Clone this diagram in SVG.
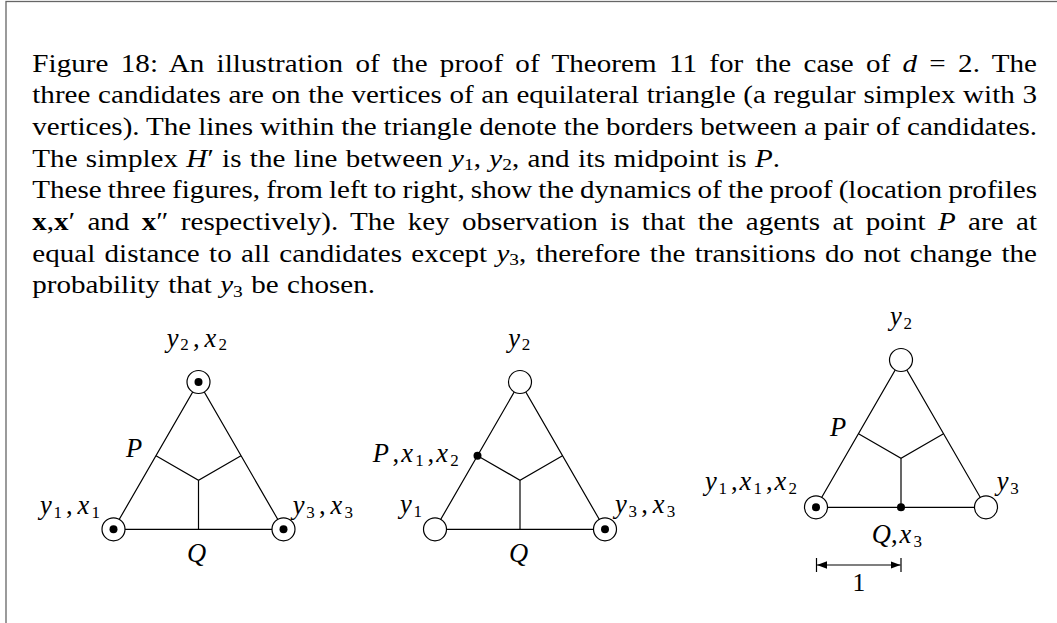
<svg xmlns="http://www.w3.org/2000/svg" width="1057" height="623" viewBox="0 0 1057 623">
<style>
.cap{font-family:"Liberation Serif",serif;font-size:25.5px;fill:#000}
.m{font-family:"Liberation Serif",serif;font-size:26.5px;font-style:italic;fill:#000}
.i{font-style:italic}
.b{font-weight:bold}
.s{font-size:17px;font-style:normal}
.n{font-style:normal}
.ln{stroke:#000;stroke-width:1.2;fill:none}
.v{fill:#fff;stroke:#000;stroke-width:1.2}
.d{fill:#000}
</style>
<defs>
<marker id="ah" viewBox="0 0 10 10" refX="10" refY="5" markerWidth="10" markerHeight="10" markerUnits="userSpaceOnUse" orient="auto-start-reverse"><path d="M0,1.2 L10,5 L0,8.8 z" fill="#000"/></marker>
</defs>
<rect x="0" y="0" width="1057" height="623" fill="#fff"/>
<rect x="6" y="1.5" width="1100" height="700" fill="none" stroke="#666" stroke-width="1.3"/>

<g id="caption">
<text class="cap" transform="translate(32.3,71.7) scale(1.14,1)" textLength="881.3" lengthAdjust="spacing" word-spacing="4.3">Figure 18: An illustration of the proof of Theorem 11 for the case of <tspan class="i">d</tspan> = 2. The</text>
<text class="cap" transform="translate(32.3,103.3) scale(1.14,1)" textLength="881.3" lengthAdjust="spacing" word-spacing="0.3">three candidates are on the vertices of an equilateral triangle (a regular simplex with 3</text>
<text class="cap" transform="translate(32.3,135) scale(1.14,1)" textLength="881.3" lengthAdjust="spacing" word-spacing="-0.3">vertices). The lines within the triangle denote the borders between a pair of candidates.</text>
<text class="cap" transform="translate(32.3,166.6) scale(1.14,1)" textLength="655.9" lengthAdjust="spacing" word-spacing="0.9">The simplex <tspan class="i">H</tspan>′ is the line between <tspan class="i">y</tspan><tspan class="s" dy="3.5">1</tspan><tspan dy="-3.5">, </tspan><tspan class="i">y</tspan><tspan class="s" dy="3.5">2</tspan><tspan dy="-3.5">, and its midpoint is </tspan><tspan class="i">P</tspan>.</text>
<text class="cap" transform="translate(32.3,198.3) scale(1.14,1)" textLength="881.3" lengthAdjust="spacing" word-spacing="-1">These three figures, from left to right, show the dynamics of the proof (location profiles</text>
<text class="cap" transform="translate(32.3,230) scale(1.14,1)" textLength="881.3" lengthAdjust="spacing" word-spacing="4.5"><tspan class="b">x</tspan>,<tspan class="b">x</tspan>′ and <tspan class="b">x</tspan>″ respectively). The key observation is that the agents at point <tspan class="i">P</tspan> are at</text>
<text class="cap" transform="translate(32.3,261.6) scale(1.14,1)" textLength="881.3" lengthAdjust="spacing" word-spacing="1.8">equal distance to all candidates except <tspan class="i">y</tspan><tspan class="s" dy="3.5">3</tspan><tspan dy="-3.5">, therefore the transitions do not change the</tspan></text>
<text class="cap" transform="translate(32.3,293.3) scale(1.14,1)" textLength="300.6" lengthAdjust="spacing" word-spacing="1">probability that <tspan class="i">y</tspan><tspan class="s" dy="3.5">3</tspan><tspan dy="-3.5"> be chosen.</tspan></text>
</g>

<!-- Figure 1 -->
<g id="fig1">
<g id="fig1-connectors">
<polygon class="ln" points="113.5,529.3 198.5,382 283.5,529.3"/>
<polyline class="ln" points="156,455.7 198.5,480.2 241,455.7"/>
<line class="ln" x1="198.5" y1="480.2" x2="198.5" y2="529.3"/>
</g>
<g id="fig1-y1"><circle class="v" cx="113.5" cy="529.3" r="11.5"/><circle class="d" cx="113.5" cy="529.3" r="4"/>
<text class="m" y="514"><tspan x="40">y</tspan><tspan class="s" x="53.5" dy="3.5">1</tspan><tspan class="n" x="66" dy="-3.5">,</tspan><tspan x="77.5">x</tspan><tspan class="s" x="91.5" dy="3.5">1</tspan></text></g>
<g id="fig1-y2"><circle class="v" cx="198.5" cy="382" r="11.5"/><circle class="d" cx="198.5" cy="382" r="4"/>
<text class="m" y="346.7"><tspan x="166.7">y</tspan><tspan class="s" x="180.2" dy="3.5">2</tspan><tspan class="n" x="193" dy="-3.5">,</tspan><tspan x="204.5">x</tspan><tspan class="s" x="218.5" dy="3.5">2</tspan></text></g>
<g id="fig1-y3"><circle class="v" cx="283.5" cy="529.3" r="11.5"/><circle class="d" cx="283.5" cy="529.3" r="4"/>
<text class="m" y="514"><tspan x="292.7">y</tspan><tspan class="s" x="306.2" dy="3.5">3</tspan><tspan class="n" x="319" dy="-3.5">,</tspan><tspan x="330.5">x</tspan><tspan class="s" x="344.5" dy="3.5">3</tspan></text></g>
<g id="fig1-P"><text class="m" x="126" y="456.7">P</text></g>
<g id="fig1-Q"><text class="m" x="187" y="561.7">Q</text></g>
</g>

<!-- Figure 2 -->
<g id="fig2">
<g id="fig2-connectors">
<polygon class="ln" points="435,529.3 520,382 605,529.3"/>
<polyline class="ln" points="477.5,455.7 520,480.2 562.5,455.7"/>
<line class="ln" x1="520" y1="480.2" x2="520" y2="529.3"/>
</g>
<g id="fig2-y1"><circle class="v" cx="435" cy="529.3" r="11.5"/>
<text class="m" y="513.3"><tspan x="400">y</tspan><tspan class="s" x="413.5" dy="3.5">1</tspan></text></g>
<g id="fig2-y2"><circle class="v" cx="520" cy="382" r="11.5"/>
<text class="m" y="346.7"><tspan x="508.3">y</tspan><tspan class="s" x="521.8" dy="3.5">2</tspan></text></g>
<g id="fig2-y3"><circle class="v" cx="605" cy="529.3" r="11.5"/><circle class="d" cx="605" cy="529.3" r="4"/>
<text class="m" y="513.3"><tspan x="615">y</tspan><tspan class="s" x="628.5" dy="3.5">3</tspan><tspan class="n" x="641.3" dy="-3.5">,</tspan><tspan x="652.8">x</tspan><tspan class="s" x="666.8" dy="3.5">3</tspan></text></g>
<g id="fig2-P"><circle class="d" cx="477.5" cy="455.7" r="4"/>
<text class="m" y="462"><tspan x="372.7">P</tspan><tspan class="n" x="392.5">,</tspan><tspan x="401.2">x</tspan><tspan class="s" x="415.2" dy="3.5">1</tspan><tspan class="n" x="427.5" dy="-3.5">,</tspan><tspan x="436.2">x</tspan><tspan class="s" x="450.2" dy="3.5">2</tspan></text></g>
<g id="fig2-Q"><text class="m" x="509" y="561.7">Q</text></g>
</g>

<!-- Figure 3 -->
<g id="fig3">
<g id="fig3-connectors">
<polygon class="ln" points="816,507.3 901,360 986,507.3"/>
<polyline class="ln" points="858.5,433.7 901,458.2 943.5,433.7"/>
<line class="ln" x1="901" y1="458.2" x2="901" y2="507.3"/>
<line class="ln" x1="816.5" y1="558" x2="816.5" y2="572"/>
<line class="ln" x1="901" y1="558" x2="901" y2="572"/>
<line class="ln" x1="817" y1="565" x2="900.5" y2="565" marker-start="url(#ah)" marker-end="url(#ah)"/>
</g>
<g id="fig3-y1"><circle class="v" cx="816" cy="507.3" r="11.5"/><circle class="d" cx="816" cy="507.3" r="4"/>
<text class="m" y="490"><tspan x="705">y</tspan><tspan class="s" x="718.5" dy="3.5">1</tspan><tspan class="n" x="731" dy="-3.5">,</tspan><tspan x="739.5">x</tspan><tspan class="s" x="753.5" dy="3.5">1</tspan><tspan class="n" x="766" dy="-3.5">,</tspan><tspan x="774.5">x</tspan><tspan class="s" x="788.5" dy="3.5">2</tspan></text></g>
<g id="fig3-y2"><circle class="v" cx="901" cy="360" r="11.5"/>
<text class="m" y="325"><tspan x="890">y</tspan><tspan class="s" x="903.5" dy="3.5">2</tspan></text></g>
<g id="fig3-y3"><circle class="v" cx="986" cy="507.3" r="11.5"/>
<text class="m" y="490"><tspan x="996.7">y</tspan><tspan class="s" x="1010.2" dy="3.5">3</tspan></text></g>
<g id="fig3-P"><text class="m" x="830" y="435.7">P</text></g>
<g id="fig3-Q"><circle class="d" cx="901" cy="507.3" r="4"/>
<text class="m" y="543.3"><tspan x="871.7">Q</tspan><tspan class="n" x="891">,</tspan><tspan x="899.5">x</tspan><tspan class="s" x="913.5" dy="3.5">3</tspan></text></g>
<g id="fig3-scale"><text class="cap" x="852.5" y="590.7">1</text></g>
</g>
</svg>
